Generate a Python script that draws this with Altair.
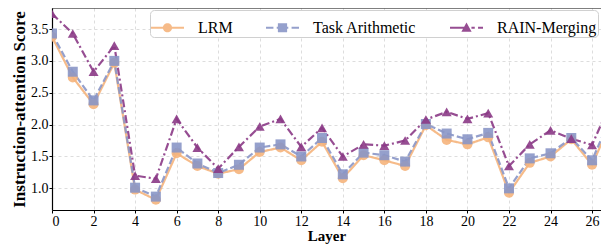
import altair as alt
import pandas as pd

layers = list(range(28))
lrm = [3.38, 2.74, 2.32, 2.97, 0.98, 0.82, 1.55, 1.35, 1.23, 1.30, 1.57, 1.64, 1.44, 1.73,
       1.16, 1.52, 1.44, 1.35, 1.99, 1.76, 1.69, 1.80, 0.93, 1.40, 1.50, 1.77, 1.37, 2.10]
task_arith = [3.43, 2.83, 2.38, 3.00, 1.01, 0.87, 1.64, 1.39, 1.24, 1.37, 1.64, 1.69, 1.50, 1.79,
              1.22, 1.56, 1.52, 1.42, 2.01, 1.86, 1.77, 1.87, 1.00, 1.47, 1.55, 1.79, 1.44, 2.19]
rain = [3.74, 3.43, 2.83, 3.24, 1.20, 1.15, 2.09, 1.64, 1.31, 1.65, 1.97, 2.09, 1.65, 1.95,
        1.50, 1.69, 1.67, 1.75, 2.08, 2.20, 2.09, 2.18, 1.35, 1.69, 1.91, 1.78, 1.68, 2.42]

methods = ["LRM", "Task Arithmetic", "RAIN-Merging"]
colors = ["#F5B47C", "#8A96C6", "#8B3A86"]
shapes = ["circle", "square", "triangle-up"]
dashes = [[1, 0], [7, 3], [8, 3, 2, 3]]

# legend glyphs: line segment(s) + marker, in [-1, 1] unit box
def seg(a, b, h=0.06):
    return f"M{a},{-h} L{b},{-h} L{b},{h} L{a},{h} Z "

r = 0.28
legend_paths = [
    seg(-1, 1) + f"M{-r},0 A{r},{r} 0 1,1 {r},0 A{r},{r} 0 1,1 {-r},0 Z",
    seg(-1, -0.55) + seg(-0.35, 0.35) + seg(0.55, 1) + f"M{-r},{-r} L{r},{-r} L{r},{r} L{-r},{r} Z",
    seg(-1, -0.1) + seg(0.3, 0.5) + seg(0.7, 1) + "M0,-0.32 L0.31,0.24 L-0.31,0.24 Z",
]

rows = []
for name, vals in zip(methods, [lrm, task_arith, rain]):
    for l, v in zip(layers, vals):
        rows.append({"Layer": l, "Score": v, "Method": name})
df = pd.DataFrame(rows)

FONT = "Liberation Serif"
W, H = 549, 202

x = alt.X("Layer:Q", scale=alt.Scale(domain=[0, 26.43], nice=False, zero=False),
          axis=alt.Axis(title="Layer", values=list(range(0, 27, 2)), format="d"))
y = alt.Y("Score:Q", scale=alt.Scale(domain=[0.66, 3.83], nice=False, zero=False),
          axis=alt.Axis(title="Instruction-attention Score", values=[1.0, 1.5, 2.0, 2.5, 3.0, 3.5], format=".1f"))

def col():
    return alt.Color("Method:N", scale=alt.Scale(domain=methods, range=colors), legend=None)

dash = alt.StrokeDash("Method:N", scale=alt.Scale(domain=methods, range=dashes), legend=None)
shape = alt.Shape("Method:N", scale=alt.Scale(domain=methods, range=shapes), legend=None)

leg = alt.Legend(title=None, orient="none", legendX=98, legendY=2,
                 direction="horizontal", columns=3, columnPadding=33,
                 labelFont=FONT, labelFontSize=16, labelColor="black", symbolSize=1089,
                 symbolStrokeWidth=0, symbolOpacity=0.9, fillColor="white", strokeColor="#d0d0d0",
                 cornerRadius=4, padding=1, labelOffset=14)

lines = alt.Chart(df).mark_line(strokeWidth=2.2, clip=True, opacity=0.9).encode(
    x=x, y=y, color=col(), strokeDash=dash)
points = alt.Chart(df).mark_point(filled=True, size=100, clip=True, opacity=0.9).encode(
    x=x, y=y, color=col(), shape=shape)
legend_layer = alt.Chart(df).transform_filter("false").mark_point(
    filled=True, size=1089, opacity=0.9).encode(
    x=x, y=y,
    color=alt.Color("Method:N", scale=alt.Scale(domain=methods, range=colors), legend=leg),
    shape=alt.Shape("Method:N", scale=alt.Scale(domain=methods, range=legend_paths), legend=leg))
top_spine = alt.Chart(pd.DataFrame({"a": [0]})).mark_rule(color="black", strokeWidth=1.2).encode(
    x=alt.value(0), x2=alt.value(W), y=alt.value(0))

chart = alt.layer(lines, points, legend_layer, top_spine).resolve_scale(
    color="independent", shape="independent", strokeDash="independent"
).properties(
    width=W, height=H,
    autosize=alt.AutoSizeParams(type="none"),
    padding={"left": 44, "top": 0, "right": 0, "bottom": 37}
).configure_view(
    stroke=None
).configure_axis(
    labelFont=FONT, titleFont=FONT, labelFontSize=14, titleFontSize=17, titleFontWeight="bold",
    labelColor="black", titleColor="black", domainColor="black", tickColor="black",
    domainWidth=1.2, gridColor="#dddddd", gridDash=[3, 3], grid=True, tickSize=3, labelPadding=1
).configure_axisY(titlePadding=2).configure_axisX(titlePadding=0, titleFontSize=15)

chart.save("out.html", embed_options={"renderer": "svg", "actions": False})
